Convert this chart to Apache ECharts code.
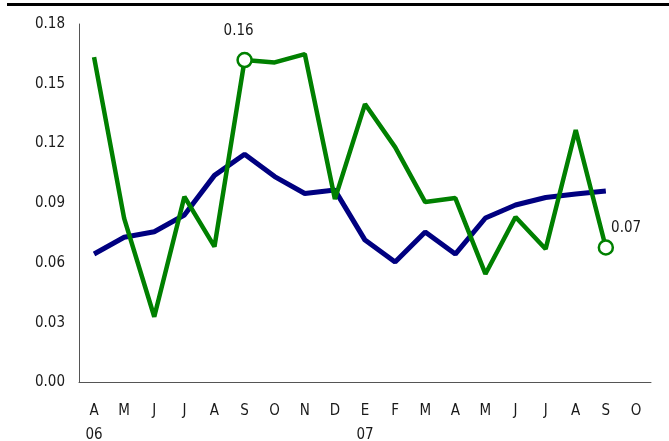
<!DOCTYPE html>
<html>
<head>
<meta charset="utf-8">
<script src="https://cdn.jsdelivr.net/npm/echarts@6/dist/echarts.min.js"></script>
<style>
  html, body { margin: 0; padding: 0; background: #fff; }
  #chart { width: 669px; height: 441px; }
</style>
</head>
<body>
<div id="chart"></div>
<script>
const months = ['A', 'M', 'J', 'J', 'A', 'S', 'O', 'N', 'D', 'E', 'F', 'M', 'A', 'M', 'J', 'J', 'A', 'S', 'O']
const years = ['06', '', '', '', '', '', '', '', '', '07', '', '', '', '', '', '', '', '', '']

const greenValues = [0.1634, 0.0824, 0.0330, 0.0933, 0.0682, 0.1619, 0.1607, 0.1649, 0.0921,
  0.1398, 0.1182, 0.0906, 0.0926, 0.0545, 0.0831, 0.0670, 0.1268, 0.0678]
const blueValues = [0.0645, 0.0729, 0.0757, 0.0841, 0.1040, 0.1146, 0.1034, 0.0949, 0.0966,
  0.0715, 0.0605, 0.0756, 0.0645, 0.0826, 0.0891, 0.0929, 0.0946, 0.0961]

// points that get a hollow marker + value label
const greenMarked = [5, 17]

const font = "'DejaVu Sans Condensed', 'Liberation Sans', sans-serif"
const green = '#008000'
const navy = '#000080'

const chart = echarts.init(document.getElementById('chart'), null, { renderer: 'canvas' })

const greenData = greenValues.map((v, i) => {
  if (!greenMarked.includes(i)) return v
  const last = i === greenValues.length - 1
  return {
    value: v,
    symbol: 'circle',
    symbolSize: 14,
    itemStyle: { color: '#fff', borderColor: green, borderWidth: 2.5 },
    label: last
      ? { show: true, position: 'right', distance: 0, offset: [-3, -19] }
      : { show: true, position: 'top', distance: 13, offset: [-6, 0] }
  }
})

chart.setOption({
  animation: false,
  backgroundColor: '#fff',
  grid: { left: 79, right: 18, top: 24, bottom: 58.5, outerBoundsMode: 'none', containLabel: false },
  graphic: [
    { type: 'rect', left: 7, top: 3, shape: { width: 662, height: 3 }, style: { fill: '#000' } }
  ],
  xAxis: {
    type: 'category',
    data: months,
    boundaryGap: true,
    axisLine: { lineStyle: { color: '#555', width: 1 } },
    axisTick: { show: false },
    axisLabel: {
      interval: 0,
      margin: 17,
      fontFamily: font,
      fontSize: 15,
      lineHeight: 24,
      color: '#1a1a1a',
      formatter: (v, i) => years[i] ? v + '\n' + years[i] : v
    },
    splitLine: { show: false }
  },
  yAxis: {
    type: 'value',
    min: 0,
    max: 0.18,
    interval: 0.03,
    axisLine: { show: true, lineStyle: { color: '#555', width: 1 } },
    axisTick: { show: false },
    axisLabel: {
      margin: 14,
      fontFamily: font,
      fontSize: 15,
      color: '#1a1a1a',
      formatter: v => v.toFixed(2)
    },
    splitLine: { show: false }
  },
  series: [
    {
      name: 'blue',
      type: 'line',
      data: blueValues,
      symbol: 'none',
      lineStyle: { color: navy, width: 5 },
      z: 2
    },
    {
      name: 'green',
      type: 'line',
      data: greenData,
      symbol: 'none',
      showSymbol: true,
      lineStyle: { color: green, width: 4.5 },
      label: {
        fontFamily: font,
        fontSize: 15,
        color: '#1a1a1a',
        formatter: p => p.value.toFixed(2)
      },
      z: 3
    }
  ]
})
</script>
</body>
</html>
